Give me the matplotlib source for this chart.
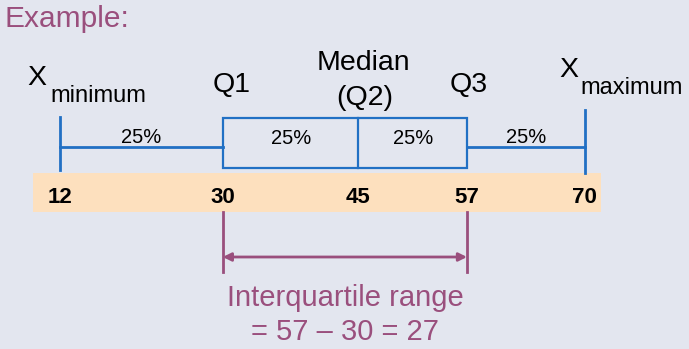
import matplotlib.pyplot as plt
from matplotlib.patches import Rectangle

# five-number summary
labels_top = ['minimum', 'Q1', 'Median\n(Q2)', 'Q3', 'maximum']
values = [12, 30, 45, 57, 70]
quarter_labels = ['25%', '25%', '25%', '25%']
iqr_text = 'Interquartile range\n= 57 \u2013 30 = 27'

xmin, q1, med, q3, xmax = values

bg = '#e3e6ef'
blue = '#2170c4'
purple = '#9a4f7d'
peach = '#fde0be'

plt.rcParams['font.family'] = ['Liberation Sans', 'DejaVu Sans']

fig = plt.figure(figsize=(6.89, 3.49), dpi=100)
fig.patch.set_facecolor(bg)
ax = fig.add_axes([0, 0, 1, 1])
ax.set_facecolor(bg)
# x in data units, y in pixel rows (top = 0)
ax.set_xlim(5.36, 81.55)
ax.set_ylim(349, 0)
ax.axis('off')

ax.text(5.9, 27, 'Example:', fontsize=21.5, color=purple, va='baseline')

# orange value band
ax.add_patch(Rectangle((xmin - 3.0, 173), (xmax + 1.8) - (xmin - 3.0), 39,
                       facecolor=peach, edgecolor='none', zorder=1))

# whiskers
ax.plot([xmin, q1], [147, 147], color=blue, lw=2, zorder=3)
ax.plot([q3, xmax], [147, 147], color=blue, lw=2, zorder=3)
ax.plot([xmin, xmin], [117, 170], color=blue, lw=2, zorder=3)
ax.plot([xmax, xmax], [110, 173], color=blue, lw=2, zorder=3)
# box
ax.add_patch(Rectangle((q1, 118), q3 - q1, 50, facecolor='none',
                       edgecolor=blue, lw=1.6, zorder=3))
ax.plot([med, med], [118, 168], color=blue, lw=1.6, zorder=3)

# 25% labels
mids = [(xmin + q1) / 2, (q1 + med) / 2, (med + q3) / 2, (q3 + xmax) / 2]
ys = [143, 144, 144, 143]
for m, y, t in zip(mids, ys, quarter_labels):
    ax.text(m, y, t, fontsize=14.5, ha='center', va='baseline', color='black')

# values in the band
for v in values:
    ax.text(v, 203, str(v), fontsize=16, fontweight='bold', ha='center',
            va='baseline', color='black', zorder=4)

# top labels
ax.text(xmin - 3.6, 85, 'X', fontsize=20.5, va='baseline')
ax.text(xmin - 1.1, 102, labels_top[0], fontsize=17, va='baseline')
ax.text(q1 + 1.0, 92, labels_top[1], fontsize=20.5, ha='center', va='baseline')
ax.text(med + 0.5, 70, 'Median', fontsize=20.5, ha='center', va='baseline')
ax.text(med + 0.7, 105, '(Q2)', fontsize=20.5, ha='center', va='baseline')
ax.text(q3 + 0.2, 92, labels_top[3], fontsize=20.5, ha='center', va='baseline')
ax.text(xmax - 2.8, 77, 'X', fontsize=20.5, va='baseline')
ax.text(xmax - 0.4, 94, labels_top[4], fontsize=17, va='baseline')

# interquartile range bracket
ax.plot([q1, q1], [212, 272], color=purple, lw=2)
ax.plot([q3, q3], [212, 272], color=purple, lw=2)
ax.annotate('', xy=(q1, 257), xytext=(q3, 257),
            arrowprops=dict(arrowstyle='<|-|>', color=purple, lw=2,
                            mutation_scale=12, shrinkA=0, shrinkB=0))
lines = iqr_text.split('\n')
ax.text((q1 + q3) / 2, 306, lines[0], fontsize=21, color=purple,
        ha='center', va='baseline')
ax.text((q1 + q3) / 2, 340, lines[1], fontsize=21, color=purple,
        ha='center', va='baseline')

fig.savefig('out.png', dpi=100, facecolor=bg)
